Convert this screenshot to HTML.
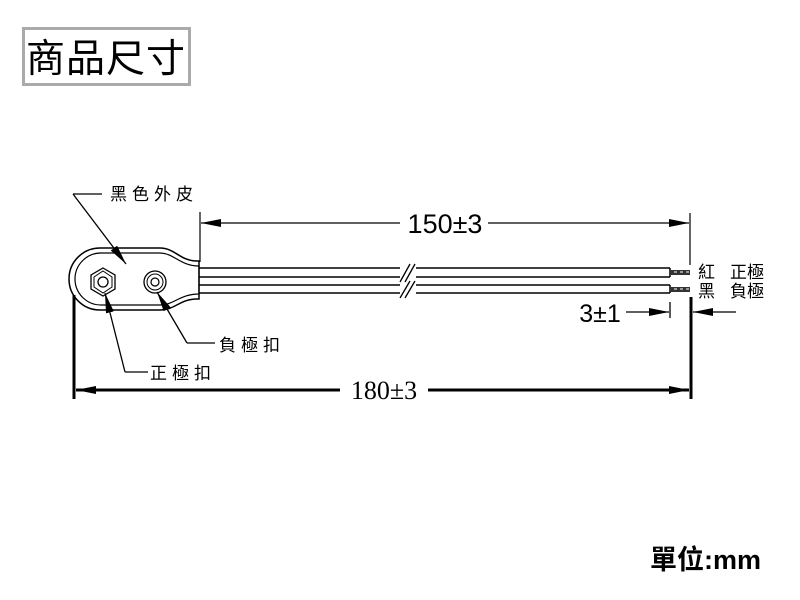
<!DOCTYPE html>
<html><head><meta charset="utf-8"><style>
html,body{margin:0;padding:0;background:#fff;}
svg{display:block;}
.cj{font-family:"Liberation Sans","Noto Sans CJK TC",sans-serif;}
</style></head><body>
<svg width="800" height="600" viewBox="0 0 800 600" xmlns="http://www.w3.org/2000/svg">
<defs>
<marker id="b" markerWidth="20" markerHeight="8" refX="20" refY="4" orient="auto" markerUnits="userSpaceOnUse"><path d="M0,0 L20,4 L0,8 Z" fill="#000"/></marker>
</defs>
<rect x="23.5" y="28.5" width="166" height="56" fill="#fff" stroke="#aaa" stroke-width="3"/>
<text x="106" y="72" class="cj" font-size="39" text-anchor="middle" fill="#000" letter-spacing="1">商品尺寸</text>

<path d="M100,248 L160,248 C175,248 180,261 197,261 L199,261 L199,299 L197,299 C180,299 175,310 160,310 L100,310 A31,31 0 0 1 100,248 Z" fill="#fff" stroke="#000" stroke-width="1.5"/>
<path d="M101,253 L160,253 C174,253 180,266 199,266 L199,294 C180,294 174,305 160,305 L101,305 A26,26 0 0 1 101,253 Z" fill="none" stroke="#000" stroke-width="1.2"/>
<polygon points="103,268 115,275 115,289 103,296 91,289 91,275" fill="#fff" stroke="#000" stroke-width="1.3"/>
<polygon points="103,271 112,277 112,287 103,293 94,287 94,277" fill="none" stroke="#000" stroke-width="1"/>
<circle cx="103" cy="282" r="5" fill="none" stroke="#000" stroke-width="1.3"/>
<circle cx="155" cy="282" r="11" fill="#fff" stroke="#000" stroke-width="1.3"/>
<circle cx="155" cy="282" r="8" fill="none" stroke="#000" stroke-width="1"/>
<circle cx="155" cy="282" r="4" fill="none" stroke="#000" stroke-width="1.2"/>

<g stroke="#000" stroke-width="1.5" fill="none">
<line x1="199" y1="268" x2="670" y2="268"/><line x1="199" y1="277" x2="670" y2="277"/>
<line x1="670" y1="268" x2="670" y2="277"/>
<line x1="199" y1="285" x2="670" y2="285"/><line x1="199" y1="293" x2="670" y2="293"/>
<line x1="670" y1="285" x2="670" y2="293"/>
</g>
<rect x="670" y="270" width="20" height="5" fill="#333"/>
<rect x="670" y="287" width="20" height="5" fill="#333"/>
<g stroke="#fff" stroke-width="1"><line x1="674" y1="272" x2="677" y2="272"/><line x1="680" y1="272" x2="683" y2="272"/><line x1="686" y1="272" x2="689" y2="272"/><line x1="674" y1="289" x2="677" y2="289"/><line x1="680" y1="289" x2="683" y2="289"/><line x1="686" y1="289" x2="689" y2="289"/></g>
<rect x="400" y="262" width="16" height="38" fill="#fff"/>
<g stroke="#000" stroke-width="1.3"><line x1="400" y1="282" x2="410" y2="264"/><line x1="405" y1="282" x2="415" y2="264"/><line x1="400" y1="298" x2="410" y2="281"/><line x1="405" y1="298" x2="415" y2="281"/></g>

<g stroke="#000" stroke-width="1.2">
<line x1="200" y1="212" x2="200" y2="262"/>
<line x1="690" y1="213" x2="690" y2="265"/>
<line x1="400" y1="223" x2="201" y2="223" marker-end="url(#b)"/>
<line x1="488" y1="223" x2="689" y2="223" marker-end="url(#b)"/>
</g>
<text x="445" y="233" font-family="Liberation Sans,sans-serif" font-size="27" text-anchor="middle" fill="#000">150±3</text>

<g stroke="#000">
<line x1="74" y1="295" x2="74" y2="399" stroke-width="3"/>
<line x1="691" y1="297" x2="691" y2="399" stroke-width="3"/>
<line x1="340" y1="390" x2="76" y2="390" stroke-width="3" marker-end="url(#b)"/>
<line x1="428" y1="390" x2="689" y2="390" stroke-width="3" marker-end="url(#b)"/>
</g>
<text x="384" y="399" font-family="Liberation Serif,serif" font-size="26" text-anchor="middle" fill="#000">180±3</text>

<text x="600" y="322" font-family="Liberation Sans,sans-serif" font-size="25" text-anchor="middle" fill="#000">3±1</text>
<g stroke="#000" stroke-width="1.3">
<line x1="626" y1="312" x2="669" y2="312" marker-end="url(#b)"/>
<line x1="670" y1="302" x2="670" y2="318"/>
<line x1="736" y1="312" x2="693" y2="312" marker-end="url(#b)"/>
</g>

<g stroke="#000" stroke-width="1.3" fill="none">
<line x1="73" y1="194" x2="102" y2="194"/>
<line x1="73" y1="194" x2="126" y2="264" marker-end="url(#b)"/>
<line x1="215" y1="343" x2="187" y2="343"/>
<line x1="187" y1="343" x2="157" y2="292" marker-end="url(#b)"/>
<line x1="148" y1="372" x2="125" y2="372"/>
<line x1="125" y1="372" x2="105" y2="293" marker-end="url(#b)"/>
</g>
<g class="cj" font-size="17" fill="#000">
<text x="110" y="200" letter-spacing="5">黑色外皮</text>
<text x="219" y="351" letter-spacing="5">負極扣</text>
<text x="150" y="379" letter-spacing="5">正極扣</text>
<text x="698" y="278" font-size="17">紅</text>
<text x="730" y="278" font-size="17">正極</text>
<text x="698" y="297" font-size="17">黑</text>
<text x="730" y="297" font-size="17">負極</text>
</g>
<text x="650" y="569" class="cj" font-size="27" font-weight="bold" fill="#000">單位:mm</text>
</svg>
</body></html>
